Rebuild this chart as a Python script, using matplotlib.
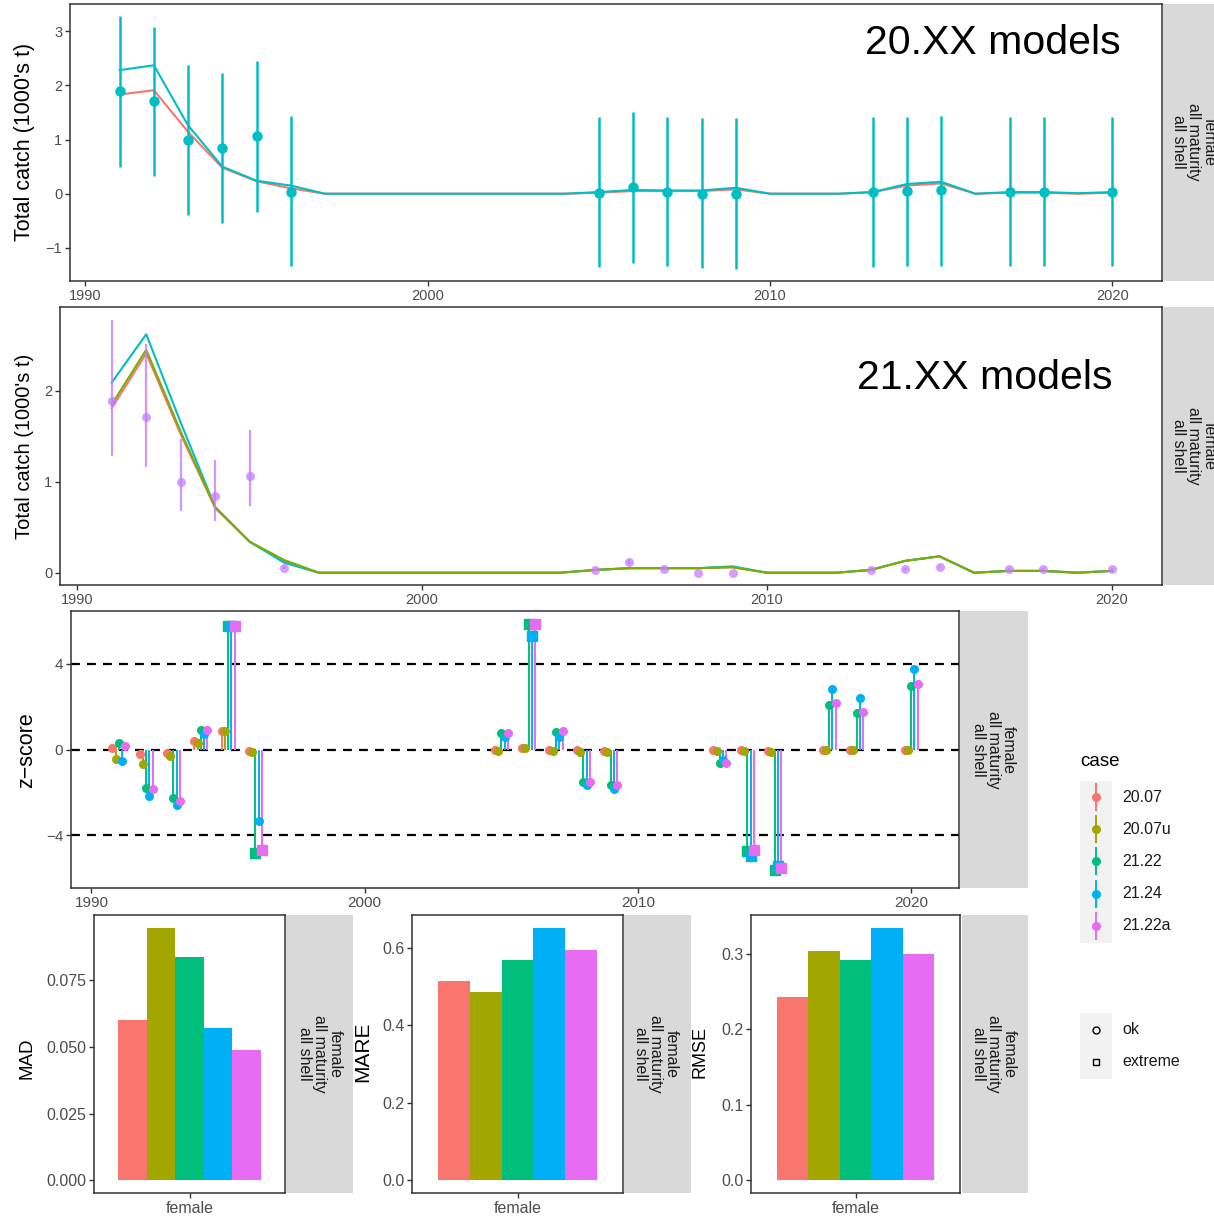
import matplotlib
matplotlib.use('Agg')
import matplotlib.pyplot as plt
from matplotlib.patches import Rectangle
import numpy as np

plt.rcParams['font.family'] = ['Liberation Sans', 'DejaVu Sans']

W, H = 1214, 1216

# ---------------- data ----------------
years = list(range(1991, 2021))
obs_years = [1991, 1992, 1993, 1994, 1995, 1996, 2005, 2006, 2007, 2008, 2009,
             2013, 2014, 2015, 2017, 2018, 2020]

# top panel: 20.XX models
obs20 = [1.89, 1.71, 1.00, 0.85, 1.06, 0.04, 0.02, 0.12, 0.04, 0.00, 0.00,
         0.03, 0.05, 0.07, 0.04, 0.04, 0.04]
obs20_lo = [0.50, 0.32, -0.39, -0.54, -0.33, -1.33, -1.35, -1.27, -1.34, -1.37, -1.39,
            -1.36, -1.34, -1.33, -1.34, -1.34, -1.34]
obs20_hi = [3.28, 3.08, 2.38, 2.23, 2.45, 1.43, 1.41, 1.50, 1.42, 1.39, 1.39,
            1.41, 1.42, 1.43, 1.42, 1.42, 1.42]
fit20_red = [1.83, 1.91, 1.14, 0.48, 0.23, 0.10, 0, 0, 0, 0, 0, 0, 0, 0,
             0.02, 0.05, 0.05, 0.05, 0.08, 0, 0, 0, 0.03, 0.15, 0.19, 0,
             0.02, 0.02, 0.00, 0.02]
fit20_cyan = [2.28, 2.37, 1.26, 0.50, 0.24, 0.15, 0, 0, 0, 0, 0, 0, 0, 0,
              0.03, 0.07, 0.06, 0.06, 0.11, 0, 0, 0, 0.03, 0.18, 0.22, 0,
              0.03, 0.03, 0.01, 0.03]

# middle panel: 21.XX models
obs21 = [1.89, 1.71, 1.00, 0.84, 1.06, 0.05, 0.025, 0.12, 0.045, 0.00, 0.00,
         0.025, 0.04, 0.06, 0.045, 0.04, 0.04]
obs21_lo = [1.28, 1.16, 0.68, 0.57, 0.73, 0.04, 0.02, 0.10, 0.04, 0.00, 0.00,
            0.02, 0.03, 0.05, 0.04, 0.03, 0.03]
obs21_hi = [2.78, 2.51, 1.47, 1.24, 1.57, 0.07, 0.03, 0.15, 0.055, 0.00, 0.00,
            0.03, 0.05, 0.07, 0.055, 0.05, 0.05]
fit21_red = [1.81, 2.41, 1.52, 0.71, 0.34, 0.13, 0, 0, 0, 0, 0, 0, 0, 0,
             0.03, 0.05, 0.05, 0.05, 0.06, 0, 0, 0, 0.03, 0.13, 0.18, 0,
             0.02, 0.02, 0.00, 0.02]
fit21_cyan = [2.09, 2.62, 1.65, 0.72, 0.34, 0.11, 0, 0, 0, 0, 0, 0, 0, 0,
              0.03, 0.05, 0.05, 0.05, 0.07, 0, 0, 0, 0.03, 0.13, 0.18, 0,
              0.02, 0.02, 0.00, 0.02]
fit21_green = [1.85, 2.45, 1.55, 0.72, 0.34, 0.14, 0, 0, 0, 0, 0, 0, 0, 0,
               0.03, 0.05, 0.05, 0.05, 0.06, 0, 0, 0, 0.03, 0.13, 0.18, 0,
               0.02, 0.02, 0.00, 0.02]

# z-scores by case
cases = ['20.07', '20.07u', '21.22', '21.24', '21.22a']
case_colors = ['#F8766D', '#A3A500', '#00BF7D', '#00B0F6', '#E76BF3']
z_2007 = [0.08, -0.20, -0.16, 0.39, 0.85, -0.05, 0.00, 0.08, 0.00, -0.02, -0.05,
          0.00, -0.02, -0.05, 0.00, 0.00, 0.00]
z_2007u = [-0.42, -0.67, -0.31, 0.31, 0.85, -0.10, -0.05, 0.05, -0.05, -0.10, -0.10,
           -0.05, -0.05, -0.10, 0.00, 0.00, 0.00]
z_2122 = [0.29, -1.79, -2.28, 0.93, 5.75, -4.82, 0.78, 5.85, 0.81, -1.52, -1.66,
          -0.65, -4.74, -5.63, 2.08, 1.68, 2.98]
z_2124 = [-0.54, -2.18, -2.60, 0.70, 5.75, -3.34, 0.57, 5.28, 0.57, -1.63, -1.86,
          -0.50, -4.97, -5.44, 2.80, 2.38, 3.73]
z_2122a = [0.14, -1.86, -2.39, 0.89, 5.75, -4.66, 0.78, 5.85, 0.85, -1.52, -1.66,
           -0.62, -4.66, -5.52, 2.17, 1.74, 3.03]
z_all = [z_2007, z_2007u, z_2122, z_2124, z_2122a]

# fit statistics
mad = [0.0602, 0.0947, 0.0838, 0.0572, 0.0489]
mare = [0.515, 0.485, 0.567, 0.651, 0.593]
rmse = [0.242, 0.304, 0.291, 0.334, 0.299]

strip_txt = 'female\nall maturity\nall shell'


def place(x0, y0, x1, y1):
    return [x0 / W, 1 - y1 / H, (x1 - x0) / W, (y1 - y0) / H]


def style(ax, size=11):
    for s in ax.spines.values():
        s.set_color('#333333')
        s.set_linewidth(1.1)
    ax.tick_params(colors='#333333', labelcolor='#4D4D4D', labelsize=size,
                   length=3.5, width=1.0, pad=2)


fig = plt.figure(figsize=(W / 100, H / 100), dpi=100)

# ---- top panel ----
ax1 = fig.add_axes(place(70, 4, 1162, 281))
ax1.plot(years, fit20_red, color='#F8766D', lw=1.5)
ax1.plot(years, fit20_cyan, color='#00BFC4', lw=1.5)
ax1.vlines(obs_years, obs20_lo, obs20_hi, color='#00BFC4', lw=1.8)
ax1.plot(obs_years, obs20, 'o', color='#00BFC4', ms=6.5)
ax1.set_xlim(1989.55, 2021.45)
ax1.set_ylim(-1.61, 3.50)
ax1.set_xticks([1990, 2000, 2010, 2020])
ax1.set_yticks([-1, 0, 1, 2, 3])
style(ax1, 10.5)

# ---- middle panel ----
ax2 = fig.add_axes(place(60, 307, 1162, 585))
ax2.plot(years, fit21_red, color='#F8766D', lw=1.5)
ax2.plot(years, fit21_cyan, color='#00BFC4', lw=1.5)
ax2.plot(years, fit21_green, color='#7CAE00', lw=1.5)
ax2.vlines(obs_years, obs21_lo, obs21_hi, color='#C77CFF', lw=1.6, alpha=0.8)
ax2.plot(obs_years, obs21, 'o', color='#C77CFF', ms=6.5, alpha=0.75, mec='none')
ax2.set_xlim(1989.5, 2021.45)
ax2.set_ylim(-0.135, 2.92)
ax2.set_xticks([1990, 2000, 2010, 2020])
ax2.set_yticks([0, 1, 2])
style(ax2, 10.5)

# ---- z-score panel ----
ax3 = fig.add_axes(place(71, 611, 959, 888))
for lvl in [-4, 0, 4]:
    ax3.axhline(lvl, color='black', lw=1.6, ls=(0, (4, 3.2)), zorder=1)
offsets = [-0.24, -0.12, 0.0, 0.12, 0.24]
for zs, col, off in zip(z_all, case_colors, offsets):
    xs = np.array(obs_years) + off
    zs = np.array(zs)
    ax3.vlines(xs, 0, zs, color=col, lw=1.4, zorder=2)
    ext = np.abs(zs) > 4
    ax3.plot(xs[~ext], zs[~ext], 'o', color=col, ms=5.5, zorder=3)
    ax3.plot(xs[ext], zs[ext], 's', color=col, ms=7, zorder=3)
ax3.set_xlim(1989.25, 2021.75)
ax3.set_ylim(-6.45, 6.45)
ax3.set_xticks([1990, 2000, 2010, 2020])
ax3.set_yticks([-4, 0, 4])
style(ax3, 11)

# ---- bar panels ----
bar_w = 0.18
bar_x = [1 + (i - 2) * bar_w for i in range(len(cases))]
bar_specs = [
    (mad, (94, 915, 285, 1193), (-0.0047, 0.0994), [0, 0.025, 0.05, 0.075],
     ['0.000', '0.025', '0.050', '0.075']),
    (mare, (412, 915, 623, 1193), (-0.0326, 0.684), [0, 0.2, 0.4, 0.6],
     ['0.0', '0.2', '0.4', '0.6']),
    (rmse, (751, 915, 960, 1193), (-0.0167, 0.351), [0, 0.1, 0.2, 0.3],
     ['0.0', '0.1', '0.2', '0.3']),
]
for vals, box, ylim, yt, ytl in bar_specs:
    ax = fig.add_axes(place(*box))
    ax.bar(bar_x, vals, width=bar_w, color=case_colors)
    ax.set_xlim(0.4, 1.6)
    ax.set_ylim(*ylim)
    ax.set_xticks([1])
    ax.set_xticklabels(['female'])
    ax.set_yticks(yt)
    ax.set_yticklabels(ytl)
    style(ax, 11.5)

# ---- overlay: strips, labels, legends ----
ov = fig.add_axes([0, 0, 1, 1], facecolor='none')
ov.set_xlim(0, W)
ov.set_ylim(H, 0)
ov.axis('off')

# the two top strips run past the right edge of the picture, as in the original
strips = [
    (1163, 4, 1240, 281, 1194, 142),
    (1163, 307, 1240, 585, 1194, 446),
    (960, 611, 1028, 888, 993, 750),
    (286, 915, 353, 1193, 320, 1054),
    (624, 915, 691, 1193, 656, 1054),
    (962, 915, 1028, 1193, 994, 1054),
]
for x0, y0, x1, y1, tx, ty in strips:
    ov.add_patch(Rectangle((x0, y0), x1 - x0, y1 - y0, color='#D9D9D9', lw=0))
    ov.text(tx, ty, strip_txt, rotation=270, ha='center', va='center',
            fontsize=11.5, color='#1A1A1A', linespacing=1.0, multialignment='center')

# axis titles
ylabels = [
    (25, 142, "Total catch (1000's t)", 15.5),
    (25, 446, "Total catch (1000's t)", 14.5),
    (27, 750, 'z\u2212score', 15.5),
    (27, 1058, 'MAD', 13.5),
    (363, 1052, 'MARE', 15),
    (700, 1052, 'RMSE', 13),
]
for x, y, t, fs in ylabels:
    ov.text(x, y, t, rotation=90, ha='center', va='center', fontsize=fs, color='black')

# model labels
ov.text(993, 54, '20.XX models', fontsize=29.5, ha='center', va='baseline')
ov.text(985, 389, '21.XX models', fontsize=29.5, ha='center', va='baseline')

# case legend
ov.text(1080, 762, 'case', fontsize=13.5, ha='left', va='center')
ov.add_patch(Rectangle((1080, 781), 32, 162, color='#F2F2F2', lw=0))
key_y = [797, 829, 861, 894, 926]
for ky, col, lab in zip(key_y, case_colors, cases):
    ov.plot([1096, 1096], [ky - 13, ky + 13], color=col, lw=1.4)
    ov.plot(1096, ky, 'o', color=col, ms=5.5)
    ov.text(1122, ky, lab, fontsize=11.5, ha='left', va='center', color='#1A1A1A')

# shape legend
ov.add_patch(Rectangle((1080, 1013), 32, 66, color='#F2F2F2', lw=0))
ov.plot(1096, 1030, 'o', mfc='none', mec='black', ms=5, mew=1.0)
ov.plot(1096, 1062, 's', mfc='none', mec='black', ms=5, mew=1.0)
ov.text(1122, 1030, 'ok', fontsize=11.5, ha='left', va='center', color='#1A1A1A')
ov.text(1122, 1062, 'extreme', fontsize=11.5, ha='left', va='center', color='#1A1A1A')

fig.savefig('out.png', dpi=100)
